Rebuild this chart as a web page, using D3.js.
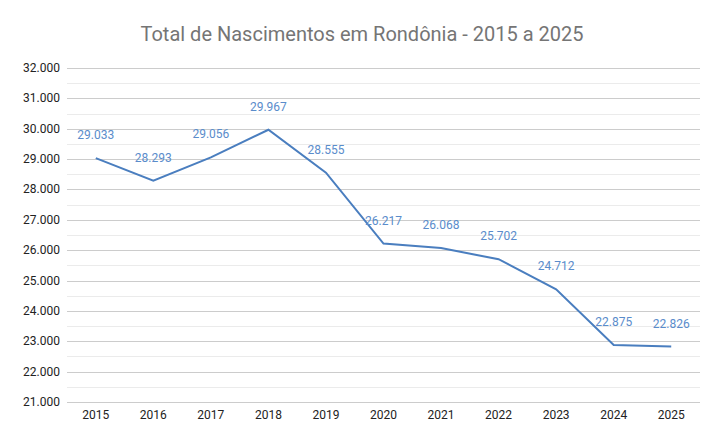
<!DOCTYPE html>
<html><head><meta charset="utf-8">
<script src="https://cdn.jsdelivr.net/npm/d3@7"></script>
<style>body{margin:0;background:#fff}svg{display:block}</style>
</head><body><div id="c"></div>
<script>
const years = ["2015","2016","2017","2018","2019","2020","2021","2022","2023","2024","2025"];
const births = [29033,28293,29056,29967,28555,26217,26068,25702,24712,22875,22826];
const yTicks = [21000,22000,23000,24000,25000,26000,27000,28000,29000,30000,31000,32000];
const title = "Total de Nascimentos em Rondônia - 2015 a 2025";

const W=723,H=442, m={l:67,r:23,t:68,b:40};
const svg=d3.select("#c").append("svg").attr("width",W).attr("height",H);
const fmt = v => d3.format(",")(v).replace(/,/g,".");
const x=d3.scaleBand().domain(years).range([m.l,W-m.r]);
const y=d3.scaleLinear().domain([21000,32000]).range([402,68]);

svg.append("text").attr("x",362).attr("y",41).attr("text-anchor","middle")
  .attr("font-family","Roboto, Arial, sans-serif").attr("font-size",20).attr("fill","#757575").text(title);

// minor gridlines
const minors = d3.range(21500,32000,1000);
svg.append("g").selectAll("line").data(minors).join("line")
  .attr("x1",m.l).attr("x2",W-m.r).attr("y1",d=>Math.round(y(d))+0.5).attr("y2",d=>Math.round(y(d))+0.5)
  .attr("stroke","#ebebeb").attr("stroke-width",1);
// major gridlines
svg.append("g").selectAll("line").data(yTicks).join("line")
  .attr("x1",m.l).attr("x2",W-m.r).attr("y1",d=>Math.round(y(d))+0.5).attr("y2",d=>Math.round(y(d))+0.5)
  .attr("stroke","#cccccc").attr("stroke-width",1);

svg.append("g").selectAll("text").data(yTicks).join("text")
  .attr("x",60).attr("y",d=>y(d)+4).attr("text-anchor","end")
  .attr("font-family","Roboto, Arial, sans-serif").attr("font-size",12).attr("fill","#222")
  .text(d=>fmt(d));

svg.append("g").selectAll("text").data(years).join("text")
  .attr("x",d=>x(d)+x.bandwidth()/2).attr("y",419).attr("text-anchor","middle")
  .attr("font-family","Roboto, Arial, sans-serif").attr("font-size",12).attr("fill","#222")
  .text(d=>d);

const line=d3.line().x((d,i)=>x(years[i])+x.bandwidth()/2).y(d=>y(d));
svg.append("path").datum(births).attr("d",line).attr("fill","none")
  .attr("stroke","#4a7ebf").attr("stroke-width",2);

svg.append("g").selectAll("text").data(births).join("text")
  .attr("x",(d,i)=>x(years[i])+x.bandwidth()/2).attr("y",d=>y(d)-19)
  .attr("text-anchor","middle")
  .attr("font-family","Roboto, Arial, sans-serif").attr("font-size",12).attr("fill","#5a8ccb")
  .text(d=>fmt(d));
</script></body></html>
